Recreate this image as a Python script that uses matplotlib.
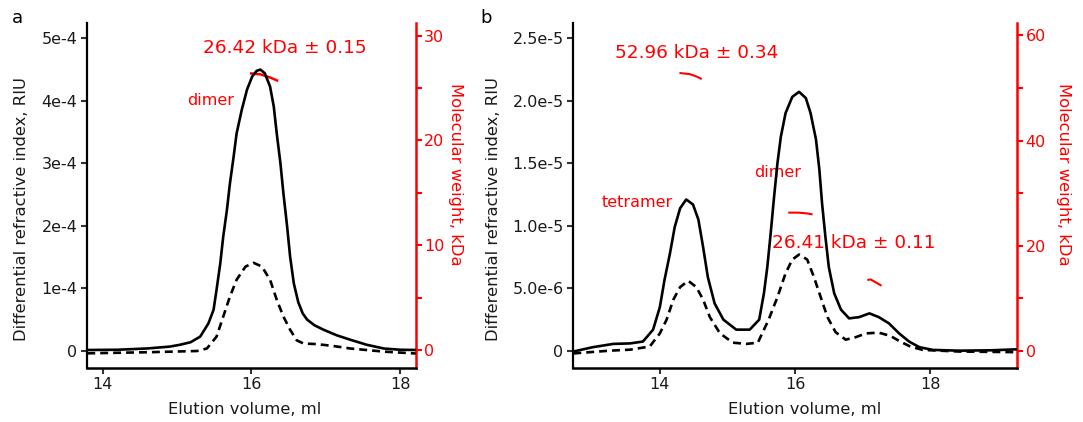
import matplotlib
matplotlib.use("Agg")
import matplotlib.pyplot as plt

plt.rcParams['font.family'] = ['DejaVu Sans']

# ---------------- Panel a data ----------------
a_ri_x = [13.79, 14.2, 14.59, 14.9, 15.04, 15.18, 15.31, 15.42, 15.49, 15.53, 15.58, 15.62,
          15.67, 15.71, 15.76, 15.80, 15.87, 15.94, 16.01, 16.07, 16.12, 16.18, 16.25, 16.30,
          16.34, 16.39, 16.43, 16.48, 16.52, 16.57, 16.63, 16.69, 16.75, 16.85, 16.97, 17.15,
          17.33, 17.55, 17.78, 18.0, 18.21]
a_ri_y = [0.016e-4, 0.02e-4, 0.04e-4, 0.07e-4, 0.10e-4, 0.14e-4, 0.23e-4, 0.44e-4, 0.66e-4,
          0.98e-4, 1.40e-4, 1.83e-4, 2.26e-4, 2.68e-4, 3.11e-4, 3.48e-4, 3.86e-4, 4.18e-4,
          4.39e-4, 4.48e-4, 4.50e-4, 4.44e-4, 4.23e-4, 3.91e-4, 3.48e-4, 3.0e-4, 2.52e-4,
          1.99e-4, 1.51e-4, 1.08e-4, 0.78e-4, 0.60e-4, 0.50e-4, 0.41e-4, 0.34e-4, 0.25e-4,
          0.18e-4, 0.10e-4, 0.04e-4, 0.02e-4, 0.016e-4]
a_uv_x = [13.79, 14.6, 15.27, 15.40, 15.53, 15.62, 15.71, 15.80, 15.92, 16.03, 16.14, 16.25,
          16.34, 16.43, 16.52, 16.61, 16.70, 16.88, 17.1, 17.33, 17.78, 18.21]
a_uv_y = [-0.037e-4, -0.02e-4, 0.0, 0.04e-4, 0.23e-4, 0.55e-4, 0.87e-4, 1.14e-4, 1.35e-4,
          1.41e-4, 1.35e-4, 1.14e-4, 0.82e-4, 0.55e-4, 0.34e-4, 0.17e-4, 0.12e-4, 0.11e-4,
          0.08e-4, 0.04e-4, -0.01e-4, -0.04e-4]
a_mw_x = [15.98, 16.12, 16.25, 16.36]
a_mw_y = [26.4, 26.3, 26.0, 25.67]

# ---------------- Panel b data ----------------
b_ri_x = [12.72, 13.01, 13.31, 13.56, 13.75, 13.90, 14.0, 14.07, 14.15, 14.22, 14.30, 14.39,
          14.49, 14.57, 14.64, 14.71, 14.81, 14.94, 15.13, 15.33, 15.47, 15.54, 15.59, 15.64,
          15.69, 15.74, 15.79, 15.86, 15.96, 16.06, 16.16, 16.23, 16.31, 16.36, 16.40, 16.45,
          16.50, 16.58, 16.68, 16.80, 16.95, 17.10, 17.24, 17.39, 17.54, 17.69, 17.84, 18.04,
          18.43, 18.9, 19.29]
b_ri_y = [-0.005e-5, 0.03e-5, 0.056e-5, 0.06e-5, 0.075e-5, 0.17e-5, 0.35e-5, 0.57e-5, 0.78e-5,
          0.99e-5, 1.14e-5, 1.21e-5, 1.17e-5, 1.05e-5, 0.83e-5, 0.59e-5, 0.38e-5, 0.25e-5,
          0.17e-5, 0.17e-5, 0.25e-5, 0.46e-5, 0.67e-5, 0.94e-5, 1.23e-5, 1.50e-5, 1.71e-5,
          1.90e-5, 2.03e-5, 2.07e-5, 2.02e-5, 1.90e-5, 1.69e-5, 1.45e-5, 1.18e-5, 0.91e-5,
          0.67e-5, 0.46e-5, 0.33e-5, 0.26e-5, 0.27e-5, 0.30e-5, 0.27e-5, 0.22e-5, 0.14e-5,
          0.074e-5, 0.03e-5, 0.008e-5, 0.002e-5, 0.005e-5, 0.013e-5]
b_uv_x = [12.72, 13.26, 13.56, 13.85, 14.0, 14.10, 14.20, 14.30, 14.42, 14.54, 14.64, 14.74,
          14.89, 15.08, 15.28, 15.45, 15.61, 15.74, 15.86, 15.96, 16.06, 16.18, 16.28, 16.38,
          16.48, 16.60, 16.75, 16.90, 17.05, 17.24, 17.41, 17.56, 17.71, 17.89, 18.43, 19.29]
b_uv_y = [-0.02e-5, 0.002e-5, 0.01e-5, 0.035e-5, 0.14e-5, 0.25e-5, 0.41e-5, 0.51e-5, 0.56e-5,
          0.51e-5, 0.41e-5, 0.27e-5, 0.14e-5, 0.066e-5, 0.056e-5, 0.066e-5, 0.25e-5, 0.43e-5,
          0.62e-5, 0.73e-5, 0.77e-5, 0.73e-5, 0.59e-5, 0.43e-5, 0.27e-5, 0.15e-5, 0.09e-5,
          0.11e-5, 0.14e-5, 0.146e-5, 0.12e-5, 0.074e-5, 0.034e-5, 0.008e-5, -0.005e-5,
          -0.01e-5]
b_mw1_x = [14.29, 14.44, 14.54, 14.62]
b_mw1_y = [52.85, 52.65, 52.2, 51.7]
b_mw2_x = [15.90, 16.05, 16.18, 16.26]
b_mw2_y = [26.3, 26.3, 26.15, 25.95]
b_mw3_x = [17.07, 17.12, 17.20, 17.28]
b_mw3_y = [13.5, 13.6, 13.0, 12.4]

# tick labels
a_yticks = [0, 1e-4, 2e-4, 3e-4, 4e-4, 5e-4]
a_yticklabels = ['0', '1e-4', '2e-4', '3e-4', '4e-4', '5e-4']
a_rticks = [0, 5, 10, 15, 20, 25, 30]
a_rticklabels = ['0', '', '10', '', '20', '', '30']
b_yticks = [0, 0.5e-5, 1.0e-5, 1.5e-5, 2.0e-5, 2.5e-5]
b_yticklabels = ['0', '5.0e-6', '1.0e-5', '1.5e-5', '2.0e-5', '2.5e-5']
b_rticks = [0, 10, 20, 30, 40, 50, 60]
b_rticklabels = ['0', '', '20', '', '40', '', '60']
xticks = [14, 16, 18]

RED = '#FF0000'
TICK_FS = 11.5
LAB_FS = 11.8
LW = 1.9
DASH = (3.0, 1.9)

fig = plt.figure(figsize=(10.83, 4.22), dpi=100)


def setup(rect, xlim, ylim, rlim, yt, ytl, rt, rtl, ylab_x, rlab_x, xlab_x):
    ax = fig.add_axes(rect)
    axr = ax.twinx()
    ax.set_xlim(*xlim)
    ax.set_ylim(*ylim)
    axr.set_ylim(*rlim)
    for s in ['top', 'right']:
        ax.spines[s].set_visible(False)
    for s in ['top', 'left', 'bottom']:
        axr.spines[s].set_visible(False)
    ax.spines['left'].set_linewidth(1.6)
    ax.spines['bottom'].set_linewidth(1.8)
    axr.spines['right'].set_linewidth(1.8)
    axr.spines['right'].set_color(RED)
    ax.set_xticks(xticks)
    ax.set_xticklabels([str(t) for t in xticks])
    ax.set_yticks(yt)
    ax.set_yticklabels(ytl)
    axr.set_yticks(rt)
    axr.set_yticklabels(rtl)
    ax.tick_params(axis='both', direction='out', length=4, width=1.5, color='#333333',
                   labelsize=TICK_FS, pad=3, labelcolor='#1a1a1a')
    axr.tick_params(axis='y', direction='out', length=4, width=1.5, color=RED,
                    labelsize=TICK_FS, labelcolor=RED, pad=2)
    ax.set_ylabel('Differential refractive index, RIU', fontsize=LAB_FS, color='#1a1a1a')
    ax.yaxis.set_label_coords(ylab_x, 0.46)
    axr.set_ylabel('Molecular weight, kDa', fontsize=LAB_FS, color=RED, rotation=270,
                   va='center')
    axr.yaxis.set_label_coords(rlab_x, 0.562)
    ax.set_xlabel('Elution volume, ml', fontsize=LAB_FS, color='#1a1a1a')
    ax.xaxis.set_label_coords(xlab_x, -0.10)
    ax.patch.set_visible(False)
    ax.set_zorder(axr.get_zorder() + 1)
    return ax, axr


line_kw = dict(color='black', lw=LW, zorder=3, solid_joinstyle='round',
               dash_joinstyle='round')

# ---------- Panel a ----------
axa, axar = setup([0.0806, 0.1287, 0.3032, 0.8168], (13.79, 18.21), (-0.267e-4, 5.245e-4),
                  (-1.69, 31.2), a_yticks, a_yticklabels, a_rticks, a_rticklabels,
                  -0.176, 1.12, 0.48)
axar.plot(a_mw_x, a_mw_y, color=RED, lw=1.8, solid_capstyle='butt', solid_joinstyle='round')
axa.text(16.45, 28.8, '26.42 kDa ± 0.15', transform=axar.transData, color=RED,
         fontsize=13.3, ha='center', va='center', zorder=1)
axa.text(15.45, 23.85, 'dimer', transform=axar.transData, color=RED,
         fontsize=11.5, ha='center', va='center', zorder=1)
axa.plot(a_ri_x, a_ri_y, **line_kw)
axa.plot(a_uv_x, a_uv_y, dashes=DASH, **line_kw)
fig.text(17 / 1083, 1 - 18 / 422, 'a', fontsize=13, ha='center', va='center')

# ---------- Panel b ----------
axb, axbr = setup([0.5294, 0.1287, 0.41, 0.8168], (12.72, 19.29), (-0.134e-5, 2.62e-5),
                  (-3.18, 62.36), b_yticks, b_yticklabels, b_rticks, b_rticklabels,
                  -0.163, 1.103, 0.52)
for mx, my in [(b_mw1_x, b_mw1_y), (b_mw2_x, b_mw2_y), (b_mw3_x, b_mw3_y)]:
    axbr.plot(mx, my, color=RED, lw=1.5, solid_capstyle='butt', solid_joinstyle='round')
axb.text(14.54, 56.65, '52.96 kDa ± 0.34', transform=axbr.transData, color=RED,
         fontsize=13.3, ha='center', va='center', zorder=1)
axb.text(13.66, 28.2, 'tetramer', transform=axbr.transData, color=RED,
         fontsize=11.5, ha='center', va='center', zorder=1)
axb.text(15.75, 34.0, 'dimer', transform=axbr.transData, color=RED,
         fontsize=11.5, ha='center', va='center', zorder=1)
axb.text(16.87, 20.6, '26.41 kDa ± 0.11', transform=axbr.transData, color=RED,
         fontsize=13.3, ha='center', va='center', zorder=1)
axb.plot(b_ri_x, b_ri_y, **line_kw)
axb.plot(b_uv_x, b_uv_y, dashes=DASH, **line_kw)
fig.text(486 / 1083, 1 - 18 / 422, 'b', fontsize=13, ha='center', va='center')

fig.savefig('out.png', dpi=100)
